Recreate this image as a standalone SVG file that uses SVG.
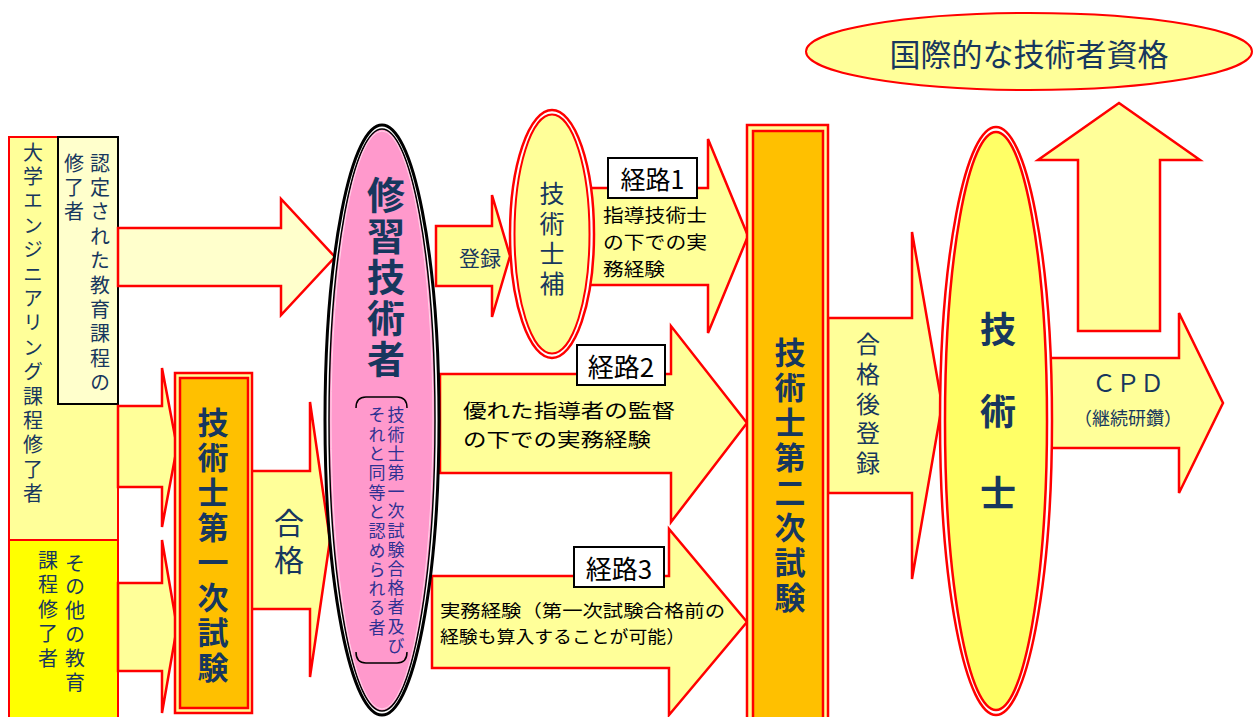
<svg xmlns="http://www.w3.org/2000/svg" width="1253" height="717" viewBox="0 0 1253 717">
<style>
text{font-family:"Noto Sans CJK JP","Noto Sans",sans-serif;}
.v{writing-mode:vertical-rl;text-anchor:start;}
.nv{fill:#17375E;}
.bk{fill:#000;}
.pu{fill:#2E3192;}
.b{font-weight:700;}
.arr{stroke:#FF0000;stroke-width:2.5;stroke-linejoin:miter;}
.py{fill:#FFFF99;}
.pc{fill:#FFFFCC;}
.lab{fill:#FFFFFF;stroke:#000;stroke-width:2;}
.c{text-anchor:middle;dominant-baseline:central;}
.h{dominant-baseline:central;}
</style>
<rect width="1253" height="717" fill="#FFFFFF"/>

<g id="left-column">
<rect x="9" y="137" width="109" height="403" fill="#FFFF99" stroke="#FF0000" stroke-width="2"/>
<rect x="9" y="540" width="109" height="182" fill="#FFFF00" stroke="#FF0000" stroke-width="2"/>
<text class="v nv" x="33" y="142" font-size="20" letter-spacing="4.4">大学エンジニアリング課程修了者</text>
<text class="v nv" x="75" y="553" font-size="20" letter-spacing="3.8">その他の教育</text>
<text class="v nv" x="48" y="550" font-size="20" letter-spacing="4.5">課程修了者</text>
</g>

<g id="accredited-box">
<rect x="58" y="137" width="60" height="267" fill="#FFFFCC" stroke="#000" stroke-width="2"/>
<text class="v nv" x="100" y="153" font-size="20" letter-spacing="4.4">認定された教育課程の</text>
<text class="v nv" x="74" y="153" font-size="20" letter-spacing="4.4">修了者</text>
</g>

<g id="connectors">
<polygon id="arrow-accredited" class="arr pc" points="118,228 281,228 281,199 335,257 281,315 281,286 118,286"/>
<polygon id="arrow-upper-left" class="arr py" points="118,406 162,406 162,368 177,447 162,527 162,487 118,487"/>
<polygon id="arrow-lower-left" class="arr py" points="118,583 162,583 162,540 177,627 162,713 162,671 118,671"/>
<polygon id="arrow-pass" class="arr py" points="251,471 310,471 310,402 330,540 310,677 310,609 251,609"/>
<polygon id="arrow-register" class="arr py" points="436,226 492,226 492,195 510,256 492,317 492,286 436,286"/>
<polygon id="arrow-route1" class="arr py" points="585,188 708,188 708,139 748,236 708,333 708,285 585,285"/>
<polygon id="arrow-route2" class="arr py" points="440,374 671,374 671,326 747,423 671,522 671,473 440,473"/>
<polygon id="arrow-route3" class="arr py" points="432,576 669,576 669,529 747,622 669,715 669,668 432,668"/>
<polygon id="arrow-after-pass" class="arr py" points="828,318 912,318 912,232 942,405 912,579 912,493 828,493"/>
<polygon id="arrow-cpd" class="arr py" points="1050,358 1179,358 1179,313 1223,403 1179,493 1179,448 1050,448"/>
<polygon id="arrow-up" class="arr py" points="1078,331 1078,160 1038,160 1119,103 1200,160 1160,160 1160,331"/>
</g>

<g id="first-exam">
<rect x="175" y="373" width="77" height="340" fill="#FFFF99" stroke="#FF0000" stroke-width="2.5"/>
<rect x="180" y="378" width="68" height="330" fill="#FFC000" stroke="#FF0000" stroke-width="2.5"/>
<text class="v nv b" x="213" y="406.5" font-size="31" letter-spacing="4">技術士第一次試験</text>
</g>

<g id="trainee">
<ellipse cx="382" cy="420" rx="57" ry="295" fill="#FFFFFF" stroke="#000" stroke-width="3"/>
<ellipse cx="382" cy="420" rx="53" ry="291" fill="#FF99CC" stroke="#000" stroke-width="1.5"/>
<ellipse cx="382" cy="420" rx="51" ry="289" fill="none" stroke="#FFD6EA" stroke-width="1"/>
<text class="v nv b" x="386" y="176" font-size="38" letter-spacing="3">修習技術者</text>
<path d="M356,408 Q356,397 366,397 L397,397 Q407,397 407,408" fill="none" stroke="#000" stroke-width="1.5"/>
<path d="M356,652 Q356,663 366,663 L397,663 Q407,663 407,652" fill="none" stroke="#000" stroke-width="1.5"/>
<text class="v pu" x="396" y="406.5" font-size="17" letter-spacing="2.2">技術士第一次試験合格者及び</text>
<text class="v pu" x="377" y="406.5" font-size="17" letter-spacing="2.3">それと同等と認められる者</text>
</g>

<g id="associate">
<ellipse cx="552" cy="234" rx="42" ry="124" fill="#FFFFFF" stroke="#FF0000" stroke-width="2.5"/>
<ellipse cx="552" cy="234" rx="37.5" ry="119.5" fill="#FFFF99" stroke="#FF0000" stroke-width="2"/>
<text class="v nv" x="552" y="180.5" font-size="25" letter-spacing="5">技術士補</text>
</g>

<g id="second-exam">
<rect x="747" y="125" width="81" height="597" fill="#FFFF99" stroke="#FF0000" stroke-width="2.5"/>
<rect x="753" y="131" width="70" height="591" fill="#FFC000" stroke="#FF0000" stroke-width="2.5"/>
<text class="v nv b" x="790" y="336.5" font-size="31" letter-spacing="4">技術士第二次試験</text>
</g>

<g id="pe">
<ellipse cx="996" cy="421" rx="56" ry="294" fill="#FFFFFF" stroke="#FF0000" stroke-width="2.5"/>
<ellipse cx="996" cy="421" rx="51" ry="289" fill="#FFFF66" stroke="#FF0000" stroke-width="2.5"/>
<text class="v nv b" x="998" y="311" font-size="36" letter-spacing="46">技術士</text>
</g>

<g id="international">
<ellipse cx="1029" cy="51.5" rx="223" ry="38.5" fill="#FFFF99" stroke="#FF0000" stroke-width="2"/>
<text class="c nv" x="1029" y="52" font-size="31">国際的な技術者資格</text>
</g>

<g id="labels">
<text class="c nv" x="480" y="257" font-size="21">登録</text>
<text class="v nv" x="289" y="508" font-size="30" letter-spacing="7">合格</text>
<text class="v nv" x="868" y="332" font-size="24" letter-spacing="5.75">合格後登録</text>
<text class="c nv" x="1128" y="381" font-size="24">ＣＰＤ</text>
<text class="c nv" x="1128" y="417" font-size="18">（継続研鑽）</text>

<rect class="lab" x="608" y="158" width="89" height="40"/>
<text class="c bk" x="652.5" y="178" font-size="25">経路1</text>
<text class="h bk" font-size="18.5"><tspan x="603" y="214" textLength="104" lengthAdjust="spacingAndGlyphs">指導技術士</tspan><tspan x="603" y="241" textLength="104" lengthAdjust="spacingAndGlyphs">の下での実</tspan><tspan x="603" y="268" textLength="62" lengthAdjust="spacingAndGlyphs">務経験</tspan></text>

<rect class="lab" x="577" y="345" width="88" height="40"/>
<text class="c bk" x="621" y="365" font-size="26">経路2</text>
<text class="h bk" font-size="19.3"><tspan x="463" y="410" textLength="212" lengthAdjust="spacingAndGlyphs">優れた指導者の監督</tspan><tspan x="463" y="438.5" textLength="188" lengthAdjust="spacingAndGlyphs">の下での実務経験</tspan></text>

<rect class="lab" x="574" y="547" width="90" height="40"/>
<text class="c bk" x="619" y="567" font-size="26">経路3</text>
<text class="h bk" font-size="17.6"><tspan x="440" y="608.5" textLength="285" lengthAdjust="spacingAndGlyphs">実務経験（第一次試験合格前の</tspan><tspan x="440" y="635" textLength="245" lengthAdjust="spacingAndGlyphs">経験も算入することが可能）</tspan></text>
</g>
</svg>
